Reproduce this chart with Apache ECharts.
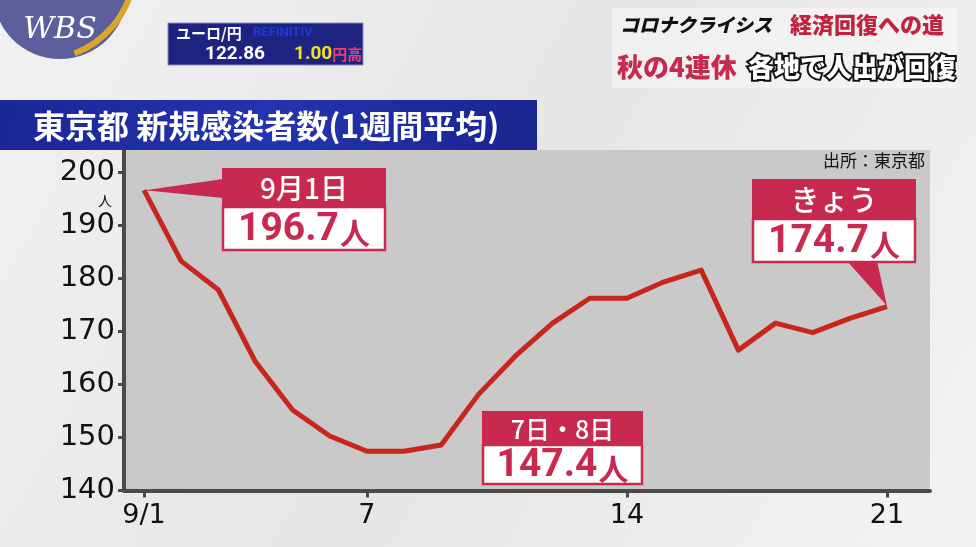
<!DOCTYPE html>
<html>
<head>
<meta charset="utf-8">
<script src="https://cdn.jsdelivr.net/npm/echarts@6/dist/echarts.min.js"></script>
<style>
html,body{margin:0;padding:0;background:#eeeeee;}
#main{width:976px;height:547px;}
</style>
</head>
<body>
<div id="main"></div>
<script>
// ---- data ----
const days = [1,2,3,4,5,6,7,8,9,10,11,12,13,14,15,16,17,18,19,20,21];
const values = [196.7,183.3,177.9,164.3,155.2,150.3,147.4,147.4,148.6,158.1,165.4,171.6,176.3,176.3,179.4,181.6,166.5,171.6,169.8,172.5,174.7];
const xTickDays = [1,7,14,21];
const xTickLabels = ['9/1','7','14','21'];
const yTicks = [140,150,160,170,180,190,200];
const title = '東京都 新規感染者数(1週間平均)';
const source = '出所：東京都';
const callouts = [
  {day:1,  head:'9月1日',   num:'196.7'},
  {day:7,  head:'7日・8日', num:'147.4'},
  {day:21, head:'きょう',   num:'174.7'}
];

const chart = echarts.init(document.getElementById('main'), null, {renderer:'canvas'});
const RED = '#c8294f';
const LINE = '#c7261d';
const AXISC = '#4a4a4a';
const NUMFONT = '"DejaVu Sans", sans-serif';
const JP = '"Noto Sans CJK JP", sans-serif';

const option = {
  backgroundColor: {
    type:'linear', x:0, y:0, x2:1, y2:1,
    colorStops:[{offset:0,color:'#f1f1f1'},{offset:0.5,color:'#e6e6e6'},{offset:1,color:'#f3f3f3'}]
  },
  animation:false,
  grid:{left:124, right:46, top:150, bottom:56.5, show:true, backgroundColor:'#c9c9c9', borderWidth:0},
  xAxis:{
    type:'value', min:0.461, max:22.159,
    splitLine:{show:false},
    axisLine:{show:true, lineStyle:{color:AXISC, width:4}},
    axisTick:{show:true, customValues:xTickDays, length:7, lineStyle:{color:AXISC, width:3}},
    axisLabel:{customValues:xTickDays, margin:12, color:'#111', fontFamily:NUMFONT, fontSize:27,
      formatter:(v)=>{const i=xTickDays.indexOf(Math.round(v)); return i>=0?xTickLabels[i]:'';}}
  },
  yAxis:{
    type:'value', min:140, max:204.28,
    splitLine:{show:false},
    axisLine:{show:true, lineStyle:{color:AXISC, width:4}},
    axisTick:{show:true, customValues:yTicks, length:6, lineStyle:{color:AXISC, width:3}},
    axisLabel:{customValues:yTicks, margin:9, color:'#111', fontFamily:NUMFONT, fontSize:29}
  },
  series:[{
    type:'line',
    data: days.map((d,i)=>[d, values[i]]),
    symbol:'none',
    lineStyle:{color:LINE, width:5, join:'round'},
    z:3
  }]
};
chart.setOption(option);

// annotation layout (pixel boxes); tips come from the axis scales
const boxes = [
  {x:222, y:168, w:164, hh:39, bh:44, tri:'left', hs:28},
  {x:482, y:411, w:161, hh:34, bh:40, tri:null, hs:25},
  {x:752, y:179, w:164, hh:40, bh:44, tri:'bottom', hs:29}
];
const g = [];
callouts.forEach((c,i)=>{
  const b = boxes[i];
  const tip = chart.convertToPixel({gridIndex:0}, [c.day, values[days.indexOf(c.day)]]);
  if (b.tri==='left') {
    g.push({type:'polygon', z:10, shape:{points:[[tip[0]+1,tip[1]],[b.x+1,b.y+11],[b.x+1,b.y+30]]}, style:{fill:RED}});
  } else if (b.tri==='bottom') {
    g.push({type:'polygon', z:10, shape:{points:[[b.x+95,b.y+b.hh+b.bh-2],[b.x+125,b.y+b.hh+b.bh-2],[tip[0],tip[1]-1]]}, style:{fill:RED}});
  }
  g.push({type:'rect', z:11, shape:{x:b.x, y:b.y, width:b.w, height:b.hh}, style:{fill:RED}});
  g.push({type:'rect', z:11, shape:{x:b.x+1, y:b.y+b.hh, width:b.w-2, height:b.bh-1}, style:{fill:'#fff', stroke:RED, lineWidth:2.5}});
  g.push({type:'text', z:12, x:b.x+b.w/2, y:b.y+b.hh/2+1, style:{text:c.head, fill:'#fff', font:'500 '+b.hs+'px '+JP, align:'center', verticalAlign:'middle'}});
  g.push({type:'text', z:12, x:b.x+b.w/2, y:b.y+b.hh+b.bh/2+1, style:{
    text:'{n|'+c.num+'}{u|人}', align:'center', verticalAlign:'middle',
    rich:{n:{fill:RED, font:'bold 39px Roboto, sans-serif'}, u:{fill:RED, font:'bold 30px '+JP, padding:[6,0,0,1]}}
  }});
});

// y unit
g.push({type:'text', z:5, x:105, y:201, style:{text:'人', fill:'#111', font:'14px '+JP, align:'center', verticalAlign:'middle'}});
// source
g.push({type:'text', z:5, x:925, y:161, style:{text:source, fill:'#111', font:'17px '+JP, align:'right', verticalAlign:'middle'}});

// title banner
g.push({type:'rect', z:4, shape:{x:0, y:100, width:537, height:50}, style:{
  fill:{type:'linear', x:0, y:0, x2:1, y2:1, colorStops:[{offset:0,color:'#1b2796'},{offset:0.5,color:'#2433b0'},{offset:1,color:'#1a2590'}]}}});
g.push({type:'text', z:5, x:33, y:126, style:{text:title, fill:'#fff', font:'bold 32px '+JP, verticalAlign:'middle'}});

// top-left logo
g.push({type:'circle', z:4, shape:{cx:60, cy:-8, r:67}, style:{fill:'#5b5f9c'}});
g.push({type:'arc', z:5, shape:{cx:40, cy:-35, r:95, startAngle:0.2, endAngle:1.2}, style:{stroke:'#d9a52a', lineWidth:6, fill:null}});
g.push({type:'text', z:6, x:60, y:30, style:{text:'WBS', fill:'#fff', font:'italic 30px "DejaVu Serif", serif', align:'center', verticalAlign:'middle'}});

// ticker box
g.push({type:'rect', z:4, shape:{x:168, y:23, width:195, height:42}, style:{fill:'#1c2380', stroke:'#8890c0', lineWidth:1}});
g.push({type:'text', z:5, x:176, y:33, style:{text:'ユーロ/円', fill:'#fff', font:'bold 15px '+JP, verticalAlign:'middle'}});
g.push({type:'text', z:5, x:253, y:33, style:{text:'REFINITIV', fill:'#2536d8', font:'bold 13px Roboto, sans-serif', verticalAlign:'middle'}});
g.push({type:'text', z:5, x:205, y:54, style:{text:'122.86', fill:'#fff', font:'bold 19px Roboto, sans-serif', verticalAlign:'middle'}});
g.push({type:'text', z:5, x:294, y:54, style:{text:'{a|1.00}{b|円高}', verticalAlign:'middle',
  rich:{a:{fill:'#f3e21a', font:'bold 19px Roboto, sans-serif'}, b:{fill:'#e8426e', font:'bold 15px '+JP}}}});

// top-right headline
g.push({type:'rect', z:4, shape:{x:612, y:8, width:345, height:80}, style:{fill:'rgba(250,250,250,0.5)'}});
g.push({type:'text', z:5, x:620, y:25, style:{text:'コロナクライシス', fill:'#111', font:'italic 900 19px '+JP, verticalAlign:'middle'}});
g.push({type:'text', z:5, x:790, y:25, style:{text:'経済回復への道', fill:'#c0223f', font:'900 22px '+JP, verticalAlign:'middle'}});
g.push({type:'text', z:5, x:617, y:67, style:{text:'秋の4連休', fill:'#c8294f', font:'900 26px '+JP, verticalAlign:'middle'}});
g.push({type:'text', z:5, x:748, y:67, style:{text:'各地で人出が回復', fill:'#fff', stroke:'#111', lineWidth:4, font:'900 26px '+JP, verticalAlign:'middle'}});

chart.setOption({graphic:g});
</script>
</body>
</html>
